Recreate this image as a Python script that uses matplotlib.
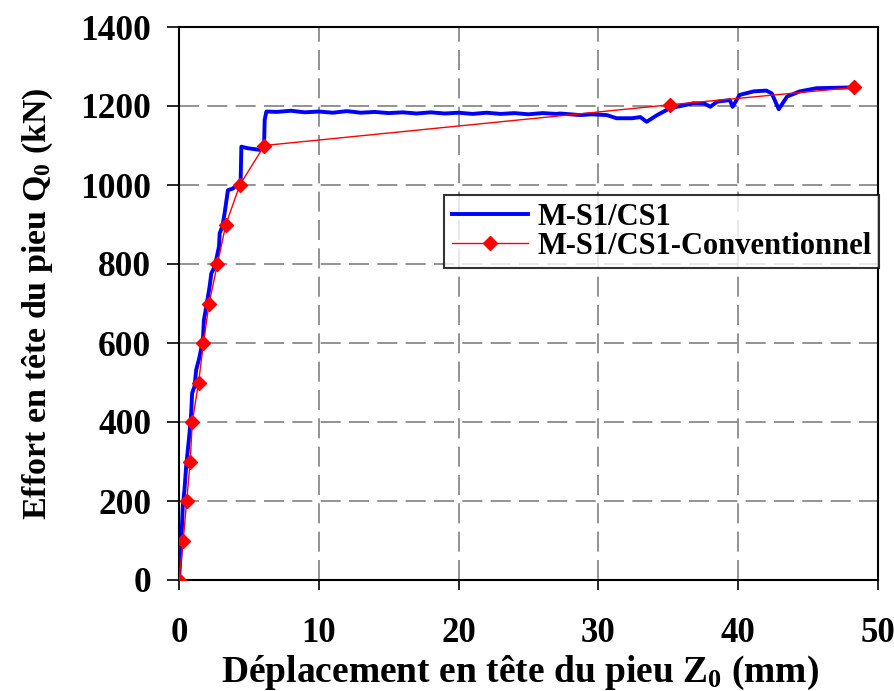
import matplotlib
matplotlib.use("Agg")
import matplotlib.pyplot as plt

# Mesure (courbe continue)
blue_x = [0, 0.15, 0.27, 0.39, 0.51, 0.63, 0.75, 0.87, 0.94, 1.11, 1.23, 1.47, 1.71, 1.78,
          1.95, 2.19, 2.31, 2.55, 2.86, 2.91, 3.1, 3.26, 3.5, 3.86, 4.22, 4.41, 4.46, 4.93,
          5.77, 6.08, 6.13, 6.25, 7, 8, 9, 10, 11, 12, 13, 14, 15, 16, 17, 18, 19, 20, 21,
          22, 23, 24, 25, 26, 27, 27.25, 28.7, 29.5, 30.6, 31.3, 32.4, 33.0, 33.45, 34.2,
          35.1, 36.8, 37.6, 38.0, 38.5, 39.4, 39.6, 40.1, 41.1, 42.0, 42.4, 42.9, 43.5,
          44.4, 45.6, 48.0]
blue_q = [0, 84, 186, 228, 287, 329, 371, 422, 473, 490, 532, 565, 608, 658,
          692, 743, 776, 793, 844, 878, 895, 928, 987, 991, 1004, 1013, 1097, 1093,
          1089, 1097, 1165, 1186, 1185, 1188, 1184, 1186, 1183, 1187, 1183, 1185, 1182,
          1184, 1181, 1184, 1181, 1183, 1180, 1183, 1180, 1182, 1179, 1182, 1180, 1181,
          1177, 1179, 1177, 1169, 1169, 1172, 1160, 1177, 1194, 1207, 1206, 1198, 1211,
          1215, 1198, 1228, 1237, 1239, 1232, 1192, 1224, 1237, 1245, 1247]

# Paliers conventionnels
red_x = [0, 0.3, 0.55, 0.8, 0.95, 1.4, 1.75, 2.15, 2.75, 3.35, 4.35, 6.1, 35.1, 48.3]
red_q = [0, 100, 200, 300, 400, 500, 600, 700, 800, 900, 1000, 1100, 1203, 1247]

xticks = [0, 10, 20, 30, 40, 50]
yticks = [0, 200, 400, 600, 800, 1000, 1200, 1400]

plt.rcParams['font.family'] = 'Liberation Serif'
plt.rcParams['font.weight'] = 'bold'
plt.rcParams['mathtext.fontset'] = 'custom'
plt.rcParams['mathtext.rm'] = 'Liberation Serif:bold'
plt.rcParams['mathtext.bf'] = 'Liberation Serif:bold'
plt.rcParams['mathtext.it'] = 'Liberation Serif:bold'

fig = plt.figure(figsize=(8.94, 6.91), dpi=100)
ax = fig.add_axes([179 / 894, 111 / 691, 699 / 894, 553 / 691])

ax.plot(blue_x, blue_q, color='#0000ff', lw=2.8, label='M-S1/CS1', zorder=3)
ax.plot(red_x, red_q, color='#ff0000', lw=1.0, marker='D', ms=7.5, mec='#ff0000',
        label='M-S1/CS1-Conventionnel', zorder=4)

ax.set_xlim(0, 50)
ax.set_ylim(0, 1400)
ax.set_xticks(xticks)
ax.set_yticks(yticks)
ax.grid(True, color='#808080', ls=(0, (12, 5)), lw=1.2)
ax.set_axisbelow(True)

for s in ax.spines.values():
    s.set_linewidth(1.5)
    s.set_color('black')

ax.tick_params(axis='y', direction='out', length=9, width=1.2, pad=11, labelsize=25.5)
ax.tick_params(axis='x', direction='out', length=7, width=1.2, pad=20, labelsize=25)
for lbl in ax.get_xticklabels() + ax.get_yticklabels():
    lbl.set_fontweight('bold')

ax.set_xlabel('Déplacement en tête du pieu Z$_\\mathrm{0}$ (mm)', fontsize=27,
              fontweight='bold', va='top')
ax.xaxis.set_label_coords(0.488, -0.133)
ax.set_ylabel('Effort en tête du pieu Q$_\\mathrm{0}$ (kN)', fontsize=24.5,
              fontweight='bold', labelpad=18)

leg = ax.legend(loc='upper left', bbox_to_anchor=(0.379, 0.696), fontsize=22,
                frameon=True, fancybox=False, handlelength=2.5, handletextpad=0.3,
                borderpad=0.25, labelspacing=0.0, borderaxespad=0)
leg.get_frame().set_edgecolor('black')
leg.get_frame().set_linewidth(1.5)
for t in leg.get_texts():
    t.set_fontweight('bold')

fig.savefig('out.png', dpi=100)
